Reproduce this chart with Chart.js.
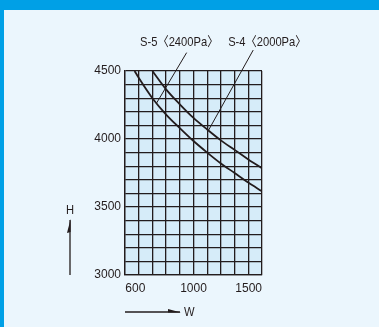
<!DOCTYPE html>
<html>
<head>
<meta charset="utf-8">
<script src="https://cdn.jsdelivr.net/npm/chart.js@4.4.1/dist/chart.umd.min.js"></script>
<style>
  html, body { margin: 0; padding: 0; }
  body { width: 379px; height: 327px; background: #ebf6fd; position: relative; overflow: hidden; }
  #topbar { position: absolute; left: 0; top: 0; width: 379px; height: 10px; background: #00a0e6; }
  #leftbar { position: absolute; left: 0; top: 0; width: 4px; height: 327px; background: #00a0e6; }
  #wrap { position: absolute; left: 0; top: 0; width: 379px; height: 327px; }
</style>
</head>
<body>
<div id="topbar"></div>
<div id="leftbar"></div>
<div id="wrap"><canvas id="c" width="379" height="327"></canvas></div>
<script>
// ---- data ----
const xTickLabels = [600, 1000, 1500];
const yTickLabels = [3000, 3500, 4000, 4500];

const s5W = [570, 600, 700, 800, 900, 1000, 1100, 1200, 1300, 1400, 1500];
const s5H = [4500, 4450, 4300, 4180, 4080, 3985, 3900, 3820, 3750, 3680, 3615];

const s4W = [700, 800, 900, 1000, 1100, 1200, 1300, 1400, 1500];
const s4H = [4500, 4365, 4255, 4155, 4070, 3990, 3920, 3850, 3785];

const seriesNames = ['S-5〈2400Pa〉', 'S-4〈2000Pa〉'];
const labelW = [610, 1253];
const labelH = [4708, 4708];
const leaderTopW = [950, 1436];
const leaderTopH = [4635, 4654];
const leaderFootW = [731, 1110];
const leaderFootH = [4265, 4065];

const axisNameX = 'W';
const axisNameY = 'H';

const FONT = '"Liberation Sans", Arial, sans-serif';
const INK = '#231c1d';

function toPts(xs, ys) { return xs.map((x, i) => ({ x: x, y: ys[i] })); }

function condensedText(ctx, text, x, y, align) {
  const sx = 0.86;
  ctx.save();
  ctx.translate(x, y);
  ctx.scale(sx, 1);
  ctx.textAlign = align;
  ctx.fillText(text, 0, 0);
  ctx.restore();
}

const bgPlugin = {
  id: 'plotBg',
  beforeDraw(chart) {
    const a = chart.chartArea, ctx = chart.ctx;
    ctx.save();
    ctx.fillStyle = '#d6ecf9';
    ctx.fillRect(a.left, a.top, a.right - a.left, a.bottom - a.top);
    ctx.restore();
  }
};

const annoPlugin = {
  id: 'anno',
  afterDraw(chart) {
    const ctx = chart.ctx, xs = chart.scales.x, ys = chart.scales.y, a = chart.chartArea;
    ctx.save();
    // leaders
    ctx.strokeStyle = INK;
    ctx.lineWidth = 1;
    for (let i = 0; i < seriesNames.length; i++) {
      ctx.beginPath();
      ctx.moveTo(xs.getPixelForValue(leaderTopW[i]), ys.getPixelForValue(leaderTopH[i]));
      ctx.lineTo(xs.getPixelForValue(leaderFootW[i]), ys.getPixelForValue(leaderFootH[i]));
      ctx.stroke();
    }
    // series labels
    ctx.fillStyle = INK;
    ctx.font = '13px ' + FONT + ', "Noto Sans CJK JP"';
    ctx.textBaseline = 'middle';
    for (let i = 0; i < seriesNames.length; i++) {
      condensedText(ctx, seriesNames[i], xs.getPixelForValue(labelW[i]), ys.getPixelForValue(labelH[i]), 'left');
    }
    // H arrow
    const hx = a.left - 55;
    ctx.lineWidth = 1.3;
    ctx.beginPath();
    ctx.moveTo(hx, a.bottom);
    ctx.lineTo(hx, a.top + 149);
    ctx.stroke();
    ctx.beginPath();
    ctx.moveTo(hx + 0.6, a.top + 148);
    ctx.lineTo(hx - 3, a.top + 162);
    ctx.lineTo(hx + 0.6, a.top + 161);
    ctx.closePath();
    ctx.fill();
    condensedText(ctx, axisNameY, hx, a.top + 139, 'center');
    // W arrow
    const wy = a.bottom + 37;
    ctx.beginPath();
    ctx.moveTo(a.left, wy);
    ctx.lineTo(a.left + 55, wy);
    ctx.stroke();
    ctx.beginPath();
    ctx.moveTo(a.left + 56, wy + 0.6);
    ctx.lineTo(a.left + 43, wy - 3);
    ctx.lineTo(a.left + 43, wy + 0.6);
    ctx.closePath();
    ctx.fill();
    condensedText(ctx, axisNameX, a.left + 59, wy, 'left');
    ctx.restore();
  }
};

new Chart(document.getElementById('c'), {
  type: 'scatter',
  data: {
    datasets: [
      { label: seriesNames[0], data: toPts(s5W, s5H), showLine: true, borderColor: INK, borderWidth: 1.8,
        pointRadius: 0, cubicInterpolationMode: 'monotone', fill: false },
      { label: seriesNames[1], data: toPts(s4W, s4H), showLine: true, borderColor: INK, borderWidth: 1.8,
        pointRadius: 0, cubicInterpolationMode: 'monotone', fill: false }
    ]
  },
  options: {
    responsive: false,
    animation: false,
    devicePixelRatio: 1,
    layout: { padding: { left: 0, top: 71, right: 117, bottom: 0 } },
    plugins: { legend: { display: false }, tooltip: { enabled: false } },
    scales: {
      x: {
        type: 'linear', min: 500, max: 1500,
        afterFit(s) { s.height = 52; },
        ticks: {
          stepSize: 100, autoSkip: false, maxRotation: 0, padding: 6,
          color: INK, font: { family: FONT, size: 12 },
          callback(v) {
            if (!xTickLabels.includes(v)) return '';
            if (v === 1500) return v + '\u2007\u2007\u2007\u2007';
            if (v === 600) return v + '\u2007';
            return String(v);
          }
        },
        grid: { color: INK, lineWidth: 1.3, drawTicks: false },
        border: { color: INK, width: 1.3 }
      },
      y: {
        type: 'linear', min: 3000, max: 4500,
        afterFit(s) { s.width = 125; },
        ticks: {
          stepSize: 100, autoSkip: false, padding: 4,
          color: INK, font: { family: FONT, size: 12 },
          callback(v) { return yTickLabels.includes(v) ? String(v) : ''; }
        },
        grid: { color: INK, lineWidth: 1.3, drawTicks: false },
        border: { color: INK, width: 1.3 }
      }
    }
  },
  plugins: [bgPlugin, annoPlugin]
});
</script>
</body>
</html>
